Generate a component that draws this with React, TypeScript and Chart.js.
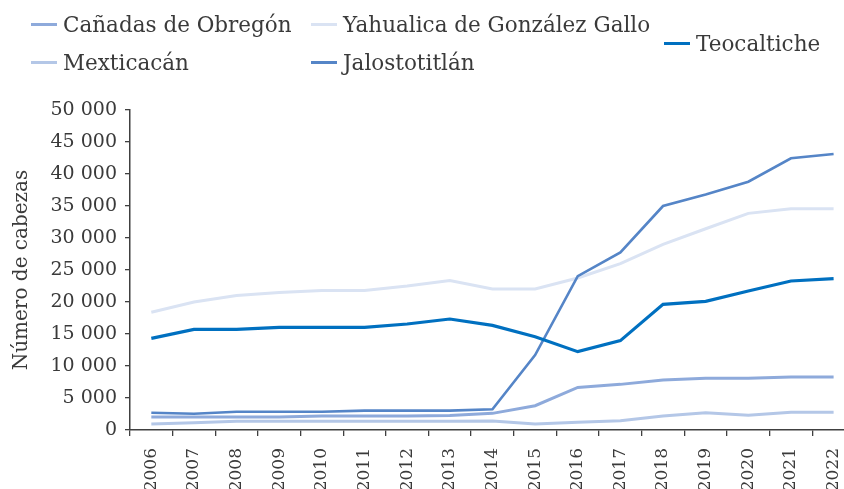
import React, { useEffect, useRef } from "react";
import { Chart, registerables } from "chart.js";

Chart.register(...registerables);

const years = ["2006","2007","2008","2009","2010","2011","2012","2013","2014","2015","2016","2017","2018","2019","2020","2021","2022"];

const canadasDeObregon = [2030, 2030, 2030, 2030, 2200, 2200, 2200, 2250, 2600, 3800, 6650, 7130, 7800, 8070, 8070, 8280, 8280];
const yahualica = [18400, 20000, 21000, 21500, 21800, 21800, 22500, 23350, 22050, 22050, 23750, 26000, 29000, 31450, 33850, 34580, 34580];
const mexticacan = [940, 1150, 1350, 1350, 1350, 1350, 1350, 1350, 1400, 940, 1200, 1460, 2190, 2700, 2290, 2760, 2760];
const jalostotitlan = [2700, 2550, 2860, 2860, 2860, 3020, 3020, 3020, 3230, 11700, 24050, 27750, 35000, 36800, 38800, 42450, 43120];
const teocaltiche = [14320, 15730, 15730, 16040, 16040, 16040, 16560, 17340, 16350, 14580, 12240, 13960, 19630, 20100, 21720, 23280, 23650];

const yTicks = [0, 5000, 10000, 15000, 20000, 25000, 30000, 35000, 40000, 45000, 50000];

const seriesNames = ["Cañadas de Obregón", "Yahualica de González Gallo", "Mexticacán", "Jalostotitlán", "Teocaltiche"];
const seriesColors = ["#8eaadb", "#dae3f3", "#b4c7e7", "#5585c7", "#0070c0"];

const FONT = "'DejaVu Serif', 'Liberation Serif', serif";
const TEXT = "#3a3a3a";

const fmt = (v: number) => String(v).replace(/\B(?=(\d{3})+(?!\d))/g, " ");

const CANVAS_W = 866;

export default function App() {
  const ref = useRef<HTMLCanvasElement | null>(null);

  useEffect(() => {
    if (!ref.current) return;
    const data = [canadasDeObregon, yahualica, mexticacan, jalostotitlan, teocaltiche];
    const orders = [4, 3, 5, 2, 1];
    const widths = [3, 3, 3, 2.6, 3.2];
    const chart = new Chart(ref.current, {
      type: "line",
      data: {
        labels: years,
        datasets: data.map((d, i) => ({
          label: seriesNames[i],
          data: d,
          borderColor: seriesColors[i],
          backgroundColor: seriesColors[i],
          borderWidth: widths[i],
          pointRadius: 0,
          tension: 0,
          fill: false,
          order: orders[i],
        })),
      },
      options: {
        responsive: false,
        animation: false,
        devicePixelRatio: 1,
        layout: { padding: { top: 110, right: 0, left: 0, bottom: 0 } },
        plugins: { legend: { display: false }, tooltip: { enabled: false } },
        scales: {
          x: {
            type: "category",
            offset: true,
            grid: { display: true, drawOnChartArea: false, drawTicks: true, tickLength: 6, offset: true, color: "#404040", lineWidth: 1.3 },
            border: { display: true, color: "#404040", width: 1.5 },
            ticks: { minRotation: 90, maxRotation: 90, autoSkip: false, padding: 12, color: TEXT, font: { family: FONT, size: 17 } },
            afterFit: (s: any) => { s.height = 59; },
          },
          y: {
            min: 0,
            max: 50000,
            afterBuildTicks: (s: any) => { s.ticks = yTicks.map((v) => ({ value: v })); },
            grid: { display: true, drawOnChartArea: false, drawTicks: true, tickLength: 5, color: "#404040", lineWidth: 1.3 },
            border: { display: true, color: "#404040", width: 1.5 },
            ticks: { padding: 8, color: TEXT, font: { family: FONT, size: 19 }, callback: (v: any) => fmt(Number(v)) },
            title: { display: true, text: "Número de cabezas", color: TEXT, font: { family: FONT, size: 20 }, padding: { top: 10, bottom: 6 } },
            afterFit: (s: any) => { s.width = 130; },
          },
        },
      },
    } as any);
    return () => chart.destroy();
  }, []);

  const legendItems = [
    { name: seriesNames[0], color: seriesColors[0], x: 31, y: 24 },
    { name: seriesNames[1], color: seriesColors[1], x: 311, y: 24 },
    { name: seriesNames[2], color: seriesColors[2], x: 31, y: 62 },
    { name: seriesNames[3], color: seriesColors[3], x: 311, y: 62 },
    { name: seriesNames[4], color: seriesColors[4], x: 664, y: 43 },
  ];

  return (
    <div style={{ position: "fixed", left: 0, top: 0, width: 844, height: 489, overflow: "hidden", background: "#fff" }}>
      <div style={{ position: "absolute", left: 0, top: 0, width: CANVAS_W, height: 489 }}>
        <canvas ref={ref} width={CANVAS_W} height={489} style={{ display: "block" }} />
      </div>
      {legendItems.map((it) => (
        <div key={it.name} style={{ position: "absolute", left: it.x, top: it.y - 15, height: 30, display: "flex", alignItems: "center", whiteSpace: "nowrap", fontFamily: FONT, fontSize: 21.5, color: TEXT }}>
          <span style={{ display: "inline-block", width: 26, height: 3, background: it.color, marginRight: 6 }} />
          <span>{it.name}</span>
        </div>
      ))}
    </div>
  );
}
